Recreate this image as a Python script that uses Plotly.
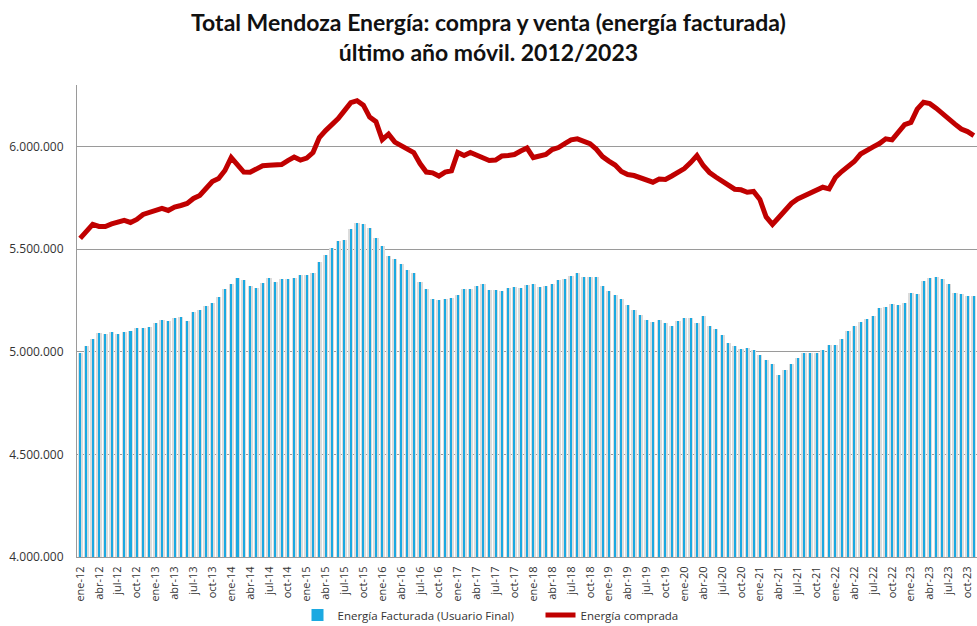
import plotly.graph_objects as go

MESES = ["ene", "feb", "mar", "abr", "may", "jun", "jul", "ago", "sep", "oct", "nov", "dic"]
categorias = [f"{MESES[m]}-{str(a)[2:]}" for a in range(2012, 2024) for m in range(12)][:143]

energia_facturada = [
    4994200, 5028300, 5060900, 5091500, 5085200, 5096400, 5085200, 5096400, 5101300, 5115900,
    5115900, 5120700, 5140200, 5156700, 5149900, 5166400, 5169400, 5149900, 5193700, 5205400,
    5222900, 5237500, 5266700, 5307600, 5331900, 5361100, 5351400, 5320200, 5312400, 5336800,
    5361100, 5341600, 5354300, 5352800, 5361100, 5375700, 5375700, 5385400, 5435500, 5469600,
    5507100, 5539200, 5546000, 5599500, 5626800, 5620500, 5604400, 5555700, 5514900, 5466200,
    5450100, 5429200, 5400000, 5383500, 5339700, 5304200, 5255500, 5250600, 5255500, 5261800,
    5275000, 5304200, 5307600, 5318800, 5328500, 5302700, 5299300, 5295900, 5312400, 5315300,
    5312400, 5327000, 5328500, 5315300, 5320200, 5328500, 5348000, 5352800, 5368900, 5383500,
    5364000, 5364000, 5364000, 5320200, 5294400, 5275000, 5258900, 5226300, 5202000, 5177600,
    5156700, 5145000, 5153300, 5142100, 5124100, 5149900, 5166400, 5166400, 5140200, 5172800,
    5124100, 5112900, 5080300, 5044800, 5028300, 5015600, 5018500, 5007300, 4983000, 4962100,
    4942600, 4885700, 4910000, 4942600, 4971800, 4996100, 4994200, 4994200, 5010700, 5031700,
    5031700, 5064300, 5099800, 5124100, 5145000, 5158200, 5172800, 5213200, 5218000, 5234600,
    5226300, 5237500, 5286200, 5283200, 5344500, 5359100, 5364000, 5356200, 5328500, 5286200,
    5279800, 5270100, 5270100,
]

energia_comprada = [
    5552300, 5586400, 5620500, 5610700, 5610700, 5622900, 5630200, 5639900, 5630200, 5644800,
    5669100, 5678800, 5688600, 5698300, 5688600, 5705600, 5712900, 5722600, 5747000, 5761600,
    5795600, 5829700, 5844300, 5883200, 5946500, 5912400, 5875900, 5875000, 5890500, 5906600,
    5909000, 5911000, 5912400, 5931900, 5948900, 5934300, 5944000, 5970800, 6043800, 6077900,
    6107100, 6136200, 6175200, 6214100, 6223800, 6201900, 6143500, 6121700, 6034100, 6060800,
    6021900, 6004900, 5990300, 5970800, 5917300, 5875900, 5872000, 5856500, 5875900, 5881800,
    5970800, 5956200, 5970800, 5956200, 5944000, 5931900, 5934300, 5953800, 5956200, 5961100,
    5978100, 5992700, 5946500, 5956200, 5961100, 5985400, 5995100, 6014600, 6032600, 6037500,
    6026800, 6014600, 5987800, 5951300, 5929400, 5910000, 5878400, 5863800, 5858900, 5846700,
    5832100, 5826300, 5841900, 5839400, 5856500, 5875900, 5892900, 5922100, 5956200, 5907500,
    5873500, 5851600, 5832100, 5812700, 5792200, 5789300, 5777600, 5781000, 5742100, 5656900,
    5620500, 5654500, 5686100, 5722600, 5744500, 5759100, 5771300, 5783500, 5801900, 5794200,
    5849200, 5878400, 5902700, 5927000, 5963500, 5983000, 5998500, 6014600, 6037500, 6032600,
    6065700, 6107100, 6117800, 6182500, 6215600, 6209200, 6187300, 6159100, 6132800, 6109500,
    6085200, 6073000, 6053500,
]

y_ticks = [4000000, 4500000, 5000000, 5500000, 6000000]
y_tick_labels = ["4.000.000", "4.500.000", "5.000.000", "5.500.000", "6.000.000"]
x_ticks = categorias[::3]

fig = go.Figure()
fig.add_trace(go.Bar(
    x=categorias, y=energia_facturada, width=0.82,
    marker=dict(color="#dcdcdc", line=dict(width=0)),
    showlegend=False, hoverinfo="skip",
))
fig.add_trace(go.Bar(
    x=categorias, y=energia_facturada, width=0.32,
    marker=dict(color="#1ba9e1", line=dict(width=0)),
    name="Energía Facturada (Usuario Final)",
))
fig.add_trace(go.Scatter(
    x=categorias, y=energia_comprada, mode="lines",
    line=dict(color="#c00000", width=5),
    name="Energía comprada",
))

fig.update_layout(
    width=977, height=626,
    margin=dict(l=77, r=0, t=85, b=69, autoexpand=False),
    paper_bgcolor="white", plot_bgcolor="white",
    barmode="overlay", bargap=0,
    title=dict(
        text="<b>Total Mendoza Energía: compra y venta (energía facturada)<br>último año móvil. 2012/2023</b>",
        x=0.5, xanchor="center", yref="container", y=0.95, yanchor="middle",
        font=dict(family="Lato, Open Sans, sans-serif", size=23, color="#111111"),
    ),
    legend=dict(
        orientation="h", x=0.245, xanchor="left", y=-0.123, yanchor="middle",
        font=dict(family="Open Sans, sans-serif", size=11.5, color="#333333"),
        itemwidth=30, traceorder="normal",
        entrywidth=198, entrywidthmode="pixels",
        bgcolor="rgba(0,0,0,0)",
    ),
    font=dict(family="Open Sans, sans-serif"),
)
fig.update_yaxes(
    range=[4000000, 6300000], automargin=False,
    tickvals=y_ticks, ticktext=y_tick_labels,
    showgrid=True, gridcolor="#9a9a9a", gridwidth=1,
    showline=True, linecolor="#9a9a9a", linewidth=1,
    ticks="", ticklabelstandoff=10,
    tickfont=dict(family="Open Sans, sans-serif", size=12, color="#333333"),
    zeroline=False,
)
fig.update_xaxes(
    type="category", range=[-0.5, 142.5], automargin=False,
    tickvals=x_ticks, ticktext=x_ticks, tickangle=-90,
    showgrid=False, showline=True, linecolor="#9a9a9a", linewidth=1,
    ticks="", ticklabelstandoff=4,
    tickfont=dict(family="Open Sans, sans-serif", size=11, color="#333333"),
)

fig.write_html(
    "out.html",
    config={"displayModeBar": False},
    post_script="document.body.style.margin='0';document.body.style.overflow='hidden';",
)
